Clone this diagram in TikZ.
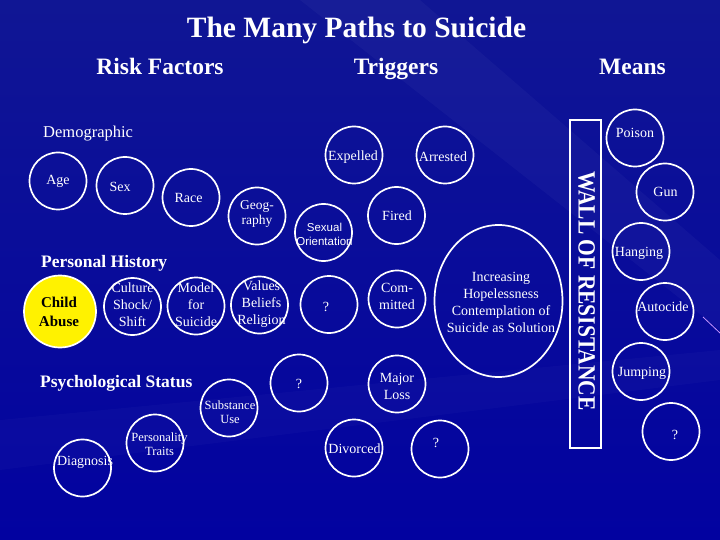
\documentclass[tikz,border=0pt]{standalone}
\usepackage{fontspec}
\setmainfont{Liberation Serif}
\newfontfamily\arialfont{Liberation Sans}
\usetikzlibrary{shapes.geometric}
\definecolor{bgtop}{RGB}{16,22,148}
\definecolor{bgbot}{RGB}{2,2,160}
\definecolor{streak}{RGB}{200,150,255}
\tikzset{
  circ/.style={draw=white, line width=1.7pt, circle, minimum size=57pt, inner sep=0pt},
  txt/.style={text=white, font=\fontsize{14}{17}\selectfont, align=center, inner sep=0pt},
  smalltxt/.style={text=white, font=\fontsize{12.5}{14}\selectfont, align=center, inner sep=0pt},
  head/.style={text=white, font=\bfseries\fontsize{23.5}{28}\selectfont, inner sep=0pt, anchor=base},
  sect/.style={text=white, font=\bfseries\fontsize{17.5}{20}\selectfont, inner sep=0pt, anchor=base west},
}
\begin{document}
\begin{tikzpicture}[x=1pt,y=-1pt]
\useasboundingbox (0,0) rectangle (720,540);
\shade[top color=bgtop, bottom color=bgbot] (0,0) rectangle (720,540);
% faint streaks
\fill[white, opacity=0.03] (300,0) -- (420,0) -- (720,260) -- (720,330) -- cycle;
\fill[white, opacity=0.025] (0,420) -- (0,470) -- (720,380) -- (720,350) -- cycle;
\draw[streak, line width=0.8pt] (703,317) -- (720,333);

% headings
\node[head, font=\bfseries\fontsize{29.5}{32}\selectfont] (title) at (356.5,38) {The Many Paths to Suicide};
\node[head] (risk) at (160,75) {Risk Factors};
\node[head] (trig) at (396,75) {Triggers};
\node[head] (means) at (632.5,75) {Means};
\node[text=white, font=\fontsize{16.5}{20}\selectfont, inner sep=0pt, anchor=base west] (demo) at (43,138) {Demographic};
\node[sect] (pers) at (41,267) {Personal History};
\node[sect] (psych) at (40,387) {Psychological Status};

% demographic
\node[circ] (age) at (58,181) {};
\node[txt] (tage) at (58,181) {Age};
\node[circ] (sex) at (125,185.5) {};
\node[txt] (tsex) at (120,187) {Sex};
\node[circ] (race) at (191,197.5) {};
\node[txt] (trace) at (188.5,198) {Race};
\node[circ] (geo) at (257,216) {};
\node[txt, font=\fontsize{13.5}{15}\selectfont] (tgeo) at (257,213.5) {Geog-\\raphy};
\node[circ] (sexor) at (323.5,232.5) {};
\node[txt, font=\arialfont\fontsize{11.5}{14}\selectfont] (tsexor) at (324.5,234) {Sexual\\Orientation};

% personal history
\node[circ, fill=yellow, minimum size=72pt] (child) at (60,311.5) {};
\node[txt, text=black, font=\bfseries\fontsize{15}{19}\selectfont] (tchild) at (59,311.5) {Child\\Abuse};
\node[circ] (cult) at (132.5,306.5) {};
\node[txt] (tcult) at (132.5,305) {Culture\\Shock/\\Shift};
\node[circ] (model) at (196,306) {};
\node[txt] (tmodel) at (196,304.7) {Model\\for\\Suicide};
\node[circ] (values) at (259.5,305) {};
\node[txt] (tvalues) at (261.5,304) {Values\\Beliefs\\Religion};

% psychological status
\node[circ] (subst) at (229,408) {};
\node[smalltxt] (tsubst) at (230,412) {Substance\\Use};
\node[circ] (perso) at (155,443) {};
\node[smalltxt] (tperso) at (159.5,444) {Personality\\Traits};
\node[circ] (diag) at (82.5,468) {};
\node[txt] (tdiag) at (85,462) {Diagnosis};

% triggers
\node[circ] (expel) at (354,155) {};
\node[txt] (texpel) at (353,157) {Expelled};
\node[circ] (arrest) at (445,155) {};
\node[txt] (tarrest) at (443,157) {Arrested};
\node[circ] (fired) at (396.5,215.5) {};
\node[txt] (tfired) at (397,216) {Fired};
\node[circ] (q1) at (329,304.5) {};
\node[txt] (tq1) at (326,307) {?};
\node[circ] (comm) at (397,299) {};
\node[txt] (tcomm) at (397,296.5) {Com-\\mitted};
\node[circ] (q2) at (299,383) {};
\node[txt] (tq2) at (299,384) {?};
\node[circ] (major) at (397,384) {};
\node[txt] (tmajor) at (397,386.5) {Major\\Loss};
\node[circ] (divor) at (354,448) {};
\node[txt] (tdivor) at (354.5,449) {Divorced};
\node[circ] (q3) at (440,449) {};
\node[txt] (tq3) at (436,443) {?};
\node[draw=white, line width=1.7pt, ellipse, minimum width=128pt, minimum height=152pt, inner sep=0pt] (hope) at (498.5,301) {};
\node[txt] (thope) at (501,302) {Increasing\\Hopelessness\\Contemplation of\\Suicide as Solution};

% wall
\node[draw=white, line width=1.7pt, minimum width=31pt, minimum height=328pt, inner sep=0pt] (wall) at (585.5,284) {};
\node[text=white, inner sep=0pt, rotate=-90, font=\bfseries\fontsize{21.5}{24}\selectfont] (twall) at (586.5,291) {\scalebox{1}[1.15]{WALL OF RESISTANCE}};

% means
\node[circ] (poison) at (635,138) {};
\node[txt] (tpoison) at (635,133) {Poison};
\node[circ] (gun) at (665,192) {};
\node[txt] (tgun) at (665.5,192) {Gun};
\node[circ] (hang) at (641,251.5) {};
\node[txt] (thang) at (639,253) {Hanging};
\node[circ] (auto) at (665,311.5) {};
\node[txt] (tauto) at (663,307) {Autocide};
\node[circ] (jump) at (641,371.5) {};
\node[txt] (tjump) at (642,373) {Jumping};
\node[circ] (q4) at (671,431.5) {};
\node[txt] (tq4) at (675,435) {?};
\end{tikzpicture}
\end{document}
